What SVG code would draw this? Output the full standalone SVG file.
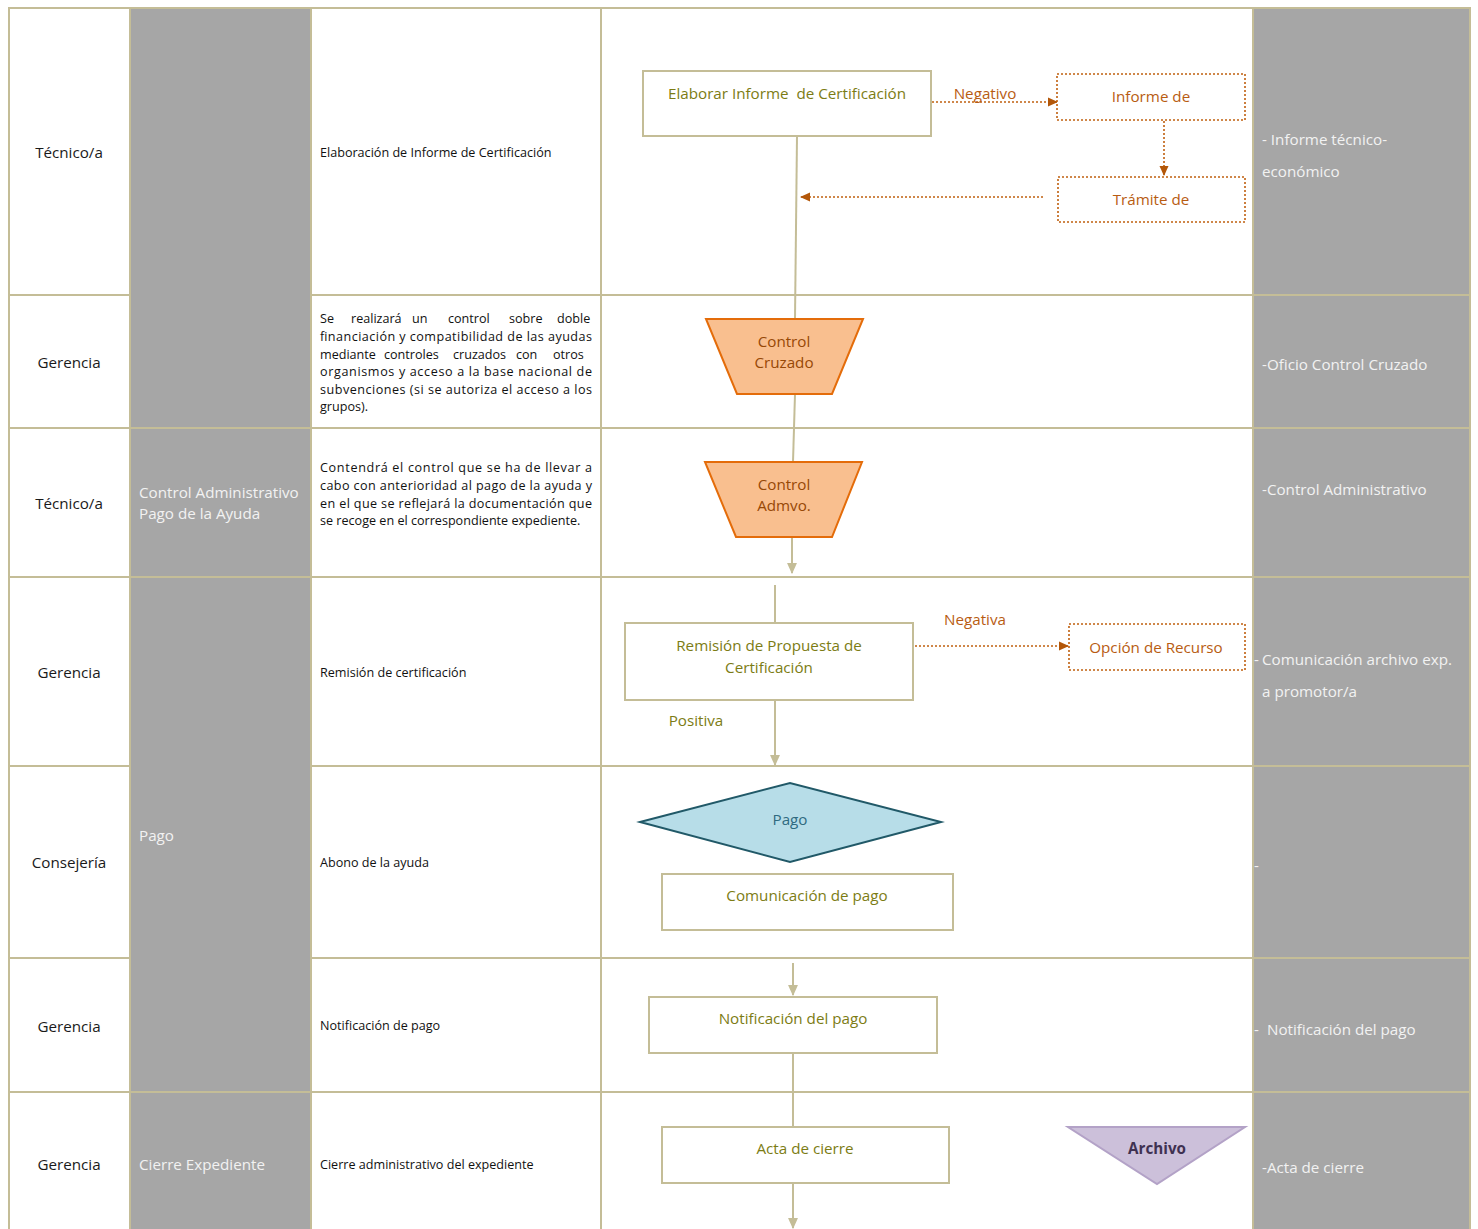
<svg xmlns="http://www.w3.org/2000/svg" width="1478" height="1229" viewBox="0 0 1478 1229">
<defs>
<style>
.grid{stroke:#c4bd97;stroke-width:2;fill:none}
.gray{fill:#a6a6a6}
.role{font-family:"Open Sans","Noto Sans",sans-serif;font-size:15.2px;fill:#1a1a1a;text-anchor:middle}
.phase{font-family:"Open Sans","Noto Sans",sans-serif;font-size:15.2px;fill:#f2f2f2}
.desc{font-family:"Open Sans","Noto Sans",sans-serif;font-size:12.6px;fill:#111}
.doc{font-family:"Open Sans","Noto Sans",sans-serif;font-size:15.2px;fill:#f2f2f2}
.box{fill:#fff;stroke:#c4bd97;stroke-width:2}
.dbox{fill:#fff;stroke:#c0600f;stroke-width:1.6;stroke-dasharray:2 2}
.olive{font-family:"Open Sans","Noto Sans",sans-serif;font-size:15.2px;fill:#7c7c14;text-anchor:middle}
.orange{font-family:"Open Sans","Noto Sans",sans-serif;font-size:15.2px;fill:#b85c12;text-anchor:middle}
.trap{fill:#f9bf8f;stroke:#e46c0a;stroke-width:2}
.traptxt{font-family:"Open Sans","Noto Sans",sans-serif;font-size:15.2px;fill:#974806;text-anchor:middle}
.solid{stroke:#c4bd97;stroke-width:2;fill:none}
.dot{stroke:#c0600f;stroke-width:1.6;stroke-dasharray:2 2;fill:none}
</style>
<marker id="arrT" viewBox="0 0 10 10" refX="9" refY="5" markerWidth="11" markerHeight="11" markerUnits="userSpaceOnUse" orient="auto"><path d="M0,0.5 L10,5 L0,9.5 z" fill="#c4bd97"/></marker>
<marker id="arrO" viewBox="0 0 10 10" refX="9" refY="5" markerWidth="10" markerHeight="10" markerUnits="userSpaceOnUse" orient="auto"><path d="M0,0.5 L10,5 L0,9.5 z" fill="#b35709"/></marker>
</defs>
<rect width="1478" height="1229" fill="#fff"/>
<g id="table">
<rect class="gray" x="130" y="8" width="181" height="1221"/>
<rect class="gray" x="1253" y="8" width="217" height="1221"/>
<line class="grid" x1="9" y1="8" x2="1470" y2="8"/>
<line class="grid" x1="9" y1="7" x2="9" y2="1229"/>
<line class="grid" x1="130" y1="7" x2="130" y2="1229"/>
<line class="grid" x1="311" y1="7" x2="311" y2="1229"/>
<line class="grid" x1="601" y1="7" x2="601" y2="1229"/>
<line class="grid" x1="1253" y1="7" x2="1253" y2="1229"/>
<line class="grid" x1="1470" y1="7" x2="1470" y2="1229"/>
<line class="grid" x1="9" y1="295" x2="130" y2="295"/>
<line class="grid" x1="311" y1="295" x2="1470" y2="295"/>
<line class="grid" x1="9" y1="428" x2="1470" y2="428"/>
<line class="grid" x1="9" y1="577" x2="1470" y2="577"/>
<line class="grid" x1="9" y1="766" x2="130" y2="766"/>
<line class="grid" x1="311" y1="766" x2="1470" y2="766"/>
<line class="grid" x1="9" y1="958" x2="130" y2="958"/>
<line class="grid" x1="311" y1="958" x2="1470" y2="958"/>
<line class="grid" x1="9" y1="1092" x2="1470" y2="1092"/>
</g>
<g id="roles">
<text class="role" x="69" y="158">Técnico/a</text>
<text class="role" x="69" y="368">Gerencia</text>
<text class="role" x="69" y="509">Técnico/a</text>
<text class="role" x="69" y="678">Gerencia</text>
<text class="role" x="69" y="868">Consejería</text>
<text class="role" x="69" y="1032">Gerencia</text>
<text class="role" x="69" y="1170">Gerencia</text>
</g>
<g id="phases">
<text class="phase" x="139" y="498">Control Administrativo</text>
<text class="phase" x="139" y="519">Pago de la Ayuda</text>
<text class="phase" x="139" y="841">Pago</text>
<text class="phase" x="139" y="1170">Cierre Expediente</text>
</g>
<g id="descriptions">
<text class="desc" x="320" y="157">Elaboración de Informe de Certificación</text>
<text class="desc" y="323"><tspan x="320">Se</tspan><tspan x="351">realizará</tspan><tspan x="412">un</tspan><tspan x="448">control</tspan><tspan x="509">sobre</tspan><tspan x="557">doble</tspan></text>
<text class="desc" x="320" y="341" textLength="272" lengthAdjust="spacing">financiación y compatibilidad de las ayudas</text>
<text class="desc" y="359"><tspan x="320">mediante</tspan><tspan x="384">controles</tspan><tspan x="453">cruzados</tspan><tspan x="516">con</tspan><tspan x="553">otros</tspan></text>
<text class="desc" x="320" y="376" textLength="272" lengthAdjust="spacing">organismos y acceso a la base nacional de</text>
<text class="desc" x="320" y="394" textLength="272" lengthAdjust="spacing">subvenciones (si se autoriza el acceso a los</text>
<text class="desc" x="320" y="411">grupos).</text>
<text class="desc" x="320" y="472" textLength="272" lengthAdjust="spacing">Contendrá el control que se ha de llevar a</text>
<text class="desc" x="320" y="490" textLength="272" lengthAdjust="spacing">cabo con anterioridad al pago de la ayuda y</text>
<text class="desc" x="320" y="508" textLength="272" lengthAdjust="spacing">en el que se reflejará la documentación que</text>
<text class="desc" x="320" y="525">se recoge en el correspondiente expediente.</text>
<text class="desc" x="320" y="677">Remisión de certificación</text>
<text class="desc" x="320" y="867">Abono de la ayuda</text>
<text class="desc" x="320" y="1030">Notificación de pago</text>
<text class="desc" x="320" y="1169">Cierre administrativo del expediente</text>
</g>
<g id="documents">
<text class="doc" x="1262" y="145">- Informe técnico-</text>
<text class="doc" x="1262" y="177">económico</text>
<text class="doc" x="1262" y="370">-Oficio Control Cruzado</text>
<text class="doc" x="1262" y="495">-Control Administrativo</text>
<text class="doc" y="665"><tspan x="1254">-</tspan><tspan x="1262">Comunicación archivo exp.</tspan></text>
<text class="doc" x="1262" y="697">a promotor/a</text>
<text class="doc" x="1254" y="871">-</text>
<text class="doc" y="1035"><tspan x="1254">-</tspan><tspan x="1267">Notificación del pago</tspan></text>
<text class="doc" x="1262" y="1173">-Acta de cierre</text>
</g>
<g id="connectors">
<line class="solid" x1="797" y1="136" x2="795" y2="319"/>
<line class="solid" x1="795" y1="394" x2="793" y2="462"/>
<line class="solid" x1="792" y1="537" x2="792" y2="573" marker-end="url(#arrT)"/>
<line class="solid" x1="775" y1="585" x2="775" y2="623"/>
<line class="solid" x1="775" y1="700" x2="775" y2="765" marker-end="url(#arrT)"/>
<line class="solid" x1="793" y1="963" x2="793" y2="995" marker-end="url(#arrT)"/>
<line class="solid" x1="793" y1="1053" x2="793" y2="1127"/>
<line class="solid" x1="793" y1="1183" x2="793" y2="1228" marker-end="url(#arrT)"/>
<line class="dot" x1="932" y1="102" x2="1057" y2="102" marker-end="url(#arrO)"/>
<line class="dot" x1="1164" y1="121" x2="1164" y2="175" marker-end="url(#arrO)"/>
<line class="dot" x1="1043" y1="197" x2="801" y2="197" marker-end="url(#arrO)"/>
<line class="dot" x1="915" y1="646" x2="1068" y2="646" marker-end="url(#arrO)"/>
<text class="orange" x="985" y="99">Negativo</text>
<text class="orange" x="975" y="625">Negativa</text>
<text class="olive" x="696" y="726">Positiva</text>
</g>
<g id="n-elaborar">
<rect class="box" x="643" y="71" width="288" height="65"/>
<text class="olive" x="787" y="99" xml:space="preserve">Elaborar Informe  de Certificación</text>
</g>
<g id="n-informe">
<rect class="dbox" x="1057" y="74" width="188" height="46"/>
<text class="orange" x="1151" y="102">Informe de</text>
</g>
<g id="n-tramite">
<rect class="dbox" x="1058" y="177" width="187" height="45"/>
<text class="orange" x="1151" y="205">Trámite de</text>
</g>
<g id="n-cruzado">
<polygon class="trap" points="706,319 863,319 832,394 737,394"/>
<text class="traptxt" x="784" y="347">Control</text>
<text class="traptxt" x="784" y="368">Cruzado</text>
</g>
<g id="n-admvo">
<polygon class="trap" points="705,462 862,462 832,537 736,537"/>
<text class="traptxt" x="784" y="490">Control</text>
<text class="traptxt" x="784" y="511">Admvo.</text>
</g>
<g id="n-remision">
<rect class="box" x="625" y="623" width="288" height="77"/>
<text class="olive" x="769" y="651">Remisión de Propuesta de</text>
<text class="olive" x="769" y="673">Certificación</text>
</g>
<g id="n-recurso">
<rect class="dbox" x="1069" y="624" width="176" height="46"/>
<text class="orange" x="1156" y="653">Opción de Recurso</text>
</g>
<g id="n-pago">
<polygon points="640,822 790,783 941,822 790,862" fill="#b7dde8" stroke="#215968" stroke-width="2"/>
<text x="790" y="825" font-family="'Open Sans','Noto Sans',sans-serif" font-size="15.2" fill="#2f6a80" text-anchor="middle">Pago</text>
</g>
<g id="n-comunicacion">
<rect class="box" x="662" y="874" width="291" height="56"/>
<text class="olive" x="807" y="901">Comunicación de pago</text>
</g>
<g id="n-notificacion">
<rect class="box" x="649" y="997" width="288" height="56"/>
<text class="olive" x="793" y="1024">Notificación del pago</text>
</g>
<g id="n-acta">
<rect class="box" x="662" y="1127" width="287" height="56"/>
<text class="olive" x="805" y="1154">Acta de cierre</text>
</g>
<g id="n-archivo">
<polygon points="1068,1127 1245,1127 1157,1184" fill="#ccc0da" stroke="#b3a2c7" stroke-width="2"/>
<text x="1157" y="1154" font-family="'Open Sans','Noto Sans',sans-serif" font-size="15.2" font-weight="bold" fill="#3f3151" text-anchor="middle">Archivo</text>
</g>
</svg>
